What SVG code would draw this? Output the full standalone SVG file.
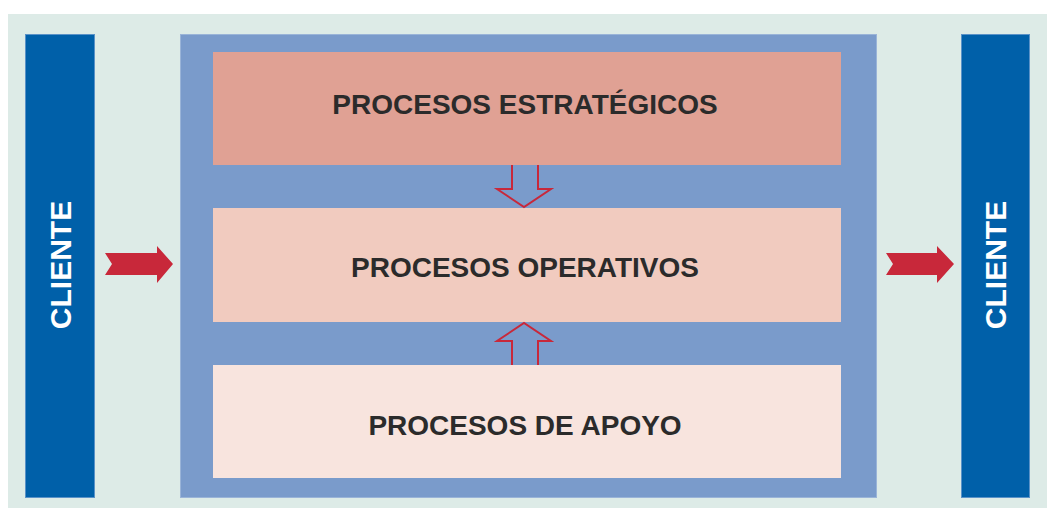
<svg xmlns="http://www.w3.org/2000/svg" width="1047" height="508" viewBox="0 0 1047 508">
<style>
.client{fill:#0060a9;stroke:#5a92c8;stroke-width:1}
.ctext{font-family:"Liberation Sans",Arial,sans-serif;font-weight:bold;font-size:30px;fill:#ffffff;text-anchor:middle}
.btext{font-family:"Liberation Sans",Arial,sans-serif;font-weight:bold;font-size:28px;fill:#2b2b2b;text-anchor:middle}
.red{fill:#c8283a}
.hollow{fill:none;stroke:#c8283a;stroke-width:2;stroke-linejoin:miter}
</style>
<rect x="0" y="0" width="1047" height="508" fill="#ffffff"/>
<rect x="8" y="14" width="1039" height="494" fill="#ddebe7"/>
<g id="frame">
<rect x="180.5" y="34.5" width="696" height="463" fill="#7a9bcb" stroke="#9ab4d8" stroke-width="1"/>
</g>
<g id="cliente-left">
<rect class="client" x="25.5" y="34.5" width="69" height="463"/>
<text class="ctext" transform="translate(71,265) rotate(-90)">CLIENTE</text>
</g>
<g id="cliente-right">
<rect class="client" x="961.5" y="34.5" width="68" height="463"/>
<text class="ctext" transform="translate(1006,265) rotate(-90)">CLIENTE</text>
</g>
<g id="estrategicos">
<rect x="213" y="52" width="628" height="113" fill="#e0a194"/>
<text class="btext" x="525" y="114">PROCESOS ESTRATÉGICOS</text>
</g>
<g id="operativos">
<rect x="213" y="208" width="628" height="114" fill="#f1cbbf"/>
<text class="btext" x="525" y="277">PROCESOS OPERATIVOS</text>
</g>
<g id="apoyo">
<rect x="213" y="365" width="628" height="113" fill="#f8e4de"/>
<text class="btext" x="525" y="435">PROCESOS DE APOYO</text>
</g>
<g id="connectors">
<polygon class="red" points="105,253 157,253 157,246 173,264 157,283 157,275 105,275 112,264"/>
<polygon class="red" points="886,253 937,253 937,246 954,264 937,283 937,275 886,275 893,264"/>
<polyline class="hollow" points="512,165 512,189 497,189 524,207 551,189 538,189 538,165"/>
<polyline class="hollow" points="512,365 512,341 497,341 524,323 551,341 538,341 538,365"/>
</g>
</svg>
